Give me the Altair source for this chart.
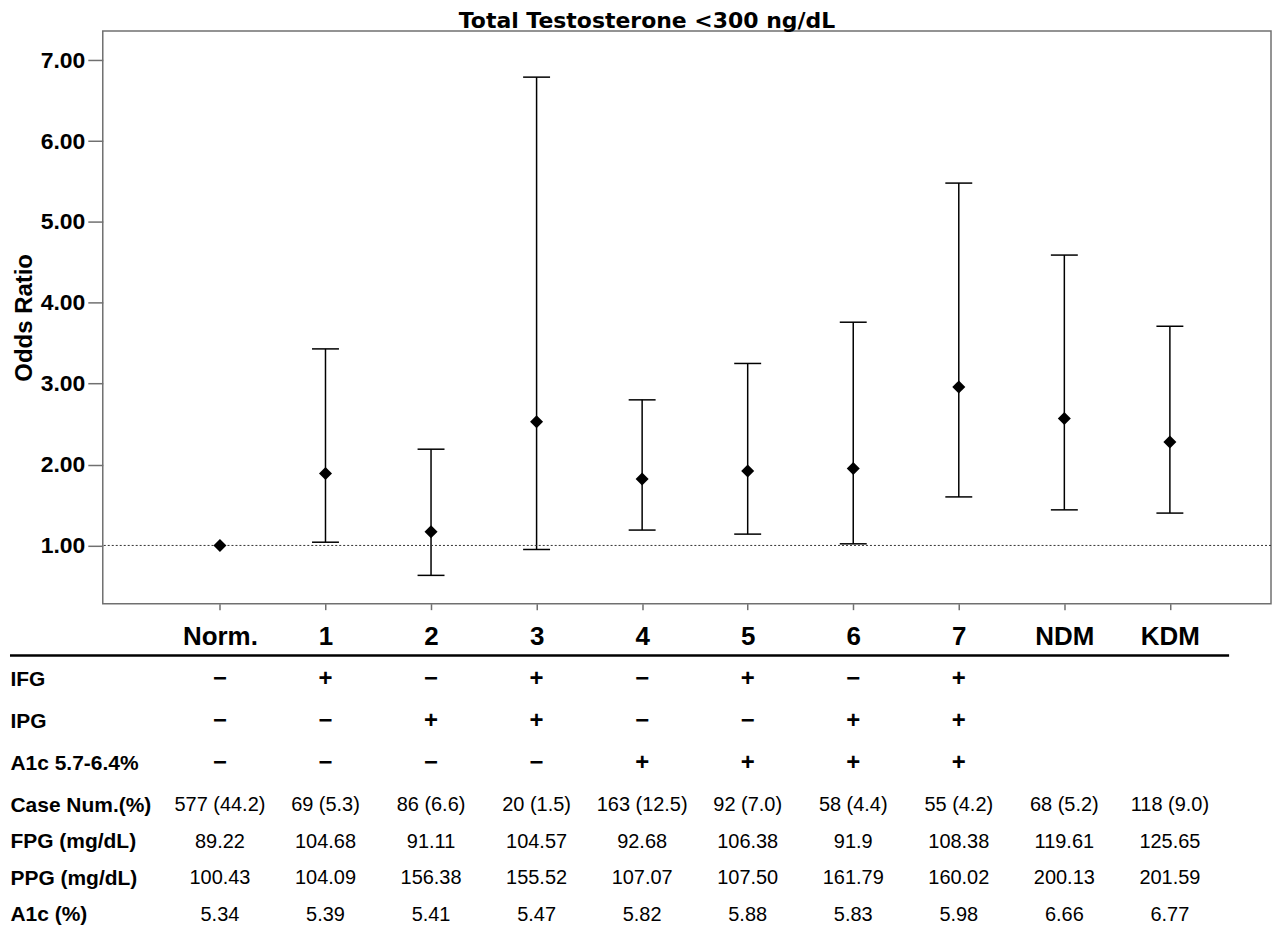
import altair as alt
import pandas as pd

FONT = "Liberation Sans"

# ---- data ----
groups = ["Norm.", "1", "2", "3", "4", "5", "6", "7", "NDM", "KDM"]
odds = [1.00, 1.89, 1.17, 2.53, 1.82, 1.92, 1.95, 2.96, 2.57, 2.28]
ci_low = [None, 1.04, 0.63, 0.95, 1.19, 1.14, 1.02, 1.60, 1.44, 1.40]
ci_high = [None, 3.43, 2.19, 6.79, 2.80, 3.25, 3.76, 5.48, 4.59, 3.71]
ref_value = [1.0]

sign_labels = ["IFG", "IPG", "A1c 5.7-6.4%"]
num_labels = ["Case Num.(%)", "FPG (mg/dL)", "PPG (mg/dL)", "A1c (%)"]
ifg = ["−", "+", "−", "+", "−", "+", "−", "+", "", ""]
ipg = ["−", "−", "+", "+", "−", "−", "+", "+", "", ""]
a1c_range = ["−", "−", "−", "−", "+", "+", "+", "+", "", ""]
case_num = ["577 (44.2)", "69 (5.3)", "86 (6.6)", "20 (1.5)", "163 (12.5)",
            "92 (7.0)", "58 (4.4)", "55 (4.2)", "68 (5.2)", "118 (9.0)"]
fpg = ["89.22", "104.68", "91.11", "104.57", "92.68", "106.38", "91.9",
       "108.38", "119.61", "125.65"]
ppg = ["100.43", "104.09", "156.38", "155.52", "107.07", "107.50", "161.79",
       "160.02", "200.13", "201.59"]
a1c = ["5.34", "5.39", "5.41", "5.47", "5.82", "5.88", "5.83", "5.98",
       "6.66", "6.77"]

# ---- tables ----
idx = list(range(len(groups)))
plot_df = pd.DataFrame({"idx": idx, "group": groups, "odds": odds,
                        "lo": ci_low, "hi": ci_high})
ref_df = pd.DataFrame({"ref": ref_value})


def long(labels, cols):
    recs = []
    for r, vals in zip(labels, cols):
        for i, v in zip(idx, vals):
            if v != "":
                recs.append({"row": r, "idx": i, "text": v})
    return pd.DataFrame(recs)


sign_df = long(sign_labels, [ifg, ipg, a1c_range])
num_df = long(num_labels, [case_num, fpg, ppg, a1c])

label_expr = "[" + ",".join("'" + g + "'" for g in groups) + "][datum.value]"
x_scale = alt.Scale(domain=[-1.11, 9.958], nice=False, zero=False)
FRAME = "#707070"
PLOT_W = 1171

x_plot = alt.X(
    "idx:Q", scale=x_scale,
    axis=alt.Axis(values=idx, labelExpr=label_expr, title=None, grid=False,
                  domain=False, tickSize=6, tickColor=FRAME, tickWidth=1.5,
                  labelFont=FONT, labelFontSize=26, labelFontWeight="bold",
                  labelColor="black", labelPadding=14, labelFlush=False),
)
y_scale = alt.Scale(domain=[0.28, 7.36], nice=False, zero=False)

base = alt.Chart(plot_df)

bars = base.mark_rule(color="black", strokeWidth=1.5).encode(
    x=x_plot,
    y=alt.Y("lo:Q", scale=y_scale,
            axis=alt.Axis(values=[1, 2, 3, 4, 5, 6, 7], format=".2f",
                          grid=False, domain=False, tickSize=15,
                          tickColor=FRAME, tickWidth=1.5, labelPadding=3,
                          labelFont=FONT, labelFontSize=23,
                          labelFontWeight="bold", labelColor="black",
                          title="Odds Ratio", titleFont=FONT,
                          titleFontSize=24, titleFontWeight="bold",
                          titleColor="black", titleX=-71, titleY=287,
                          titleBaseline="alphabetic", titleAngle=270)),
    y2="hi:Q",
)
cap_lo = base.mark_tick(orient="horizontal", size=27, thickness=1.5,
                        color="black", opacity=1).encode(
    x=alt.X("idx:Q", scale=x_scale), y=alt.Y("lo:Q", scale=y_scale))
cap_hi = base.mark_tick(orient="horizontal", size=27, thickness=1.5,
                        color="black", opacity=1).encode(
    x=alt.X("idx:Q", scale=x_scale), y=alt.Y("hi:Q", scale=y_scale))
ref = alt.Chart(ref_df).mark_rule(color="#333333", strokeWidth=1,
                                  strokeDash=[2, 2]).encode(
    y=alt.Y("ref:Q", scale=y_scale))
pts = base.mark_point(shape="diamond", filled=True, size=170, color="black",
                      opacity=1).encode(
    x=alt.X("idx:Q", scale=x_scale), y=alt.Y("odds:Q", scale=y_scale))

plot = alt.layer(bars, cap_lo, cap_hi, ref, pts).properties(
    width=PLOT_W, height=574,
    title=alt.TitleParams("Total Testosterone <300 ng/dL",
                          font="DejaVu Sans", fontSize=22,
                          fontWeight="bold", color="black",
                          anchor="middle", dx=-40, offset=-2),
    view=alt.ViewBackground(stroke=FRAME, strokeWidth=1.5),
)

# ---- table below ----
def row_axis():
    return alt.Axis(title=None, ticks=False, tickSize=0, domain=False,
                    labelAlign="left", labelPadding=93, labelFont=FONT,
                    labelFontSize=21, labelFontWeight="bold",
                    labelColor="black")


x_table = alt.X("idx:Q", scale=x_scale, axis=None)
no_frame = alt.ViewBackground(stroke="transparent")

signs = alt.Chart(sign_df).mark_text(font=FONT, fontSize=24,
                                     fontWeight="bold", color="black",
                                     baseline="middle").encode(
    x=x_table,
    y=alt.Y("row:N", sort=sign_labels,
            scale=alt.Scale(type="point", padding=0, domain=sign_labels),
            axis=row_axis()),
    text="text:N")
sep = alt.Chart(pd.DataFrame({"sep": [0]})).mark_rule(
    color="black", strokeWidth=2.5).encode(
    x=alt.value(-93), x2=alt.value(1129), y=alt.value(-24))
sign_table = alt.layer(signs, sep).properties(width=PLOT_W, height=84,
                                              view=no_frame)

num_table = alt.Chart(num_df).mark_text(font=FONT, fontSize=20,
                                        color="black",
                                        baseline="middle").encode(
    x=x_table,
    y=alt.Y("row:N", sort=num_labels,
            scale=alt.Scale(type="point", padding=0, domain=num_labels),
            axis=row_axis()),
    text="text:N").properties(width=PLOT_W, height=110, view=no_frame)

table = alt.vconcat(sign_table, num_table, spacing=42, bounds="flush")

chart = alt.vconcat(plot, table, spacing=76, bounds="flush").properties(
    padding={"left": 0, "top": 0, "right": 0, "bottom": 0},
    background="white",
).configure_view(stroke=None)

chart.save("out.html", embed_options={"renderer": "svg", "actions": False})
